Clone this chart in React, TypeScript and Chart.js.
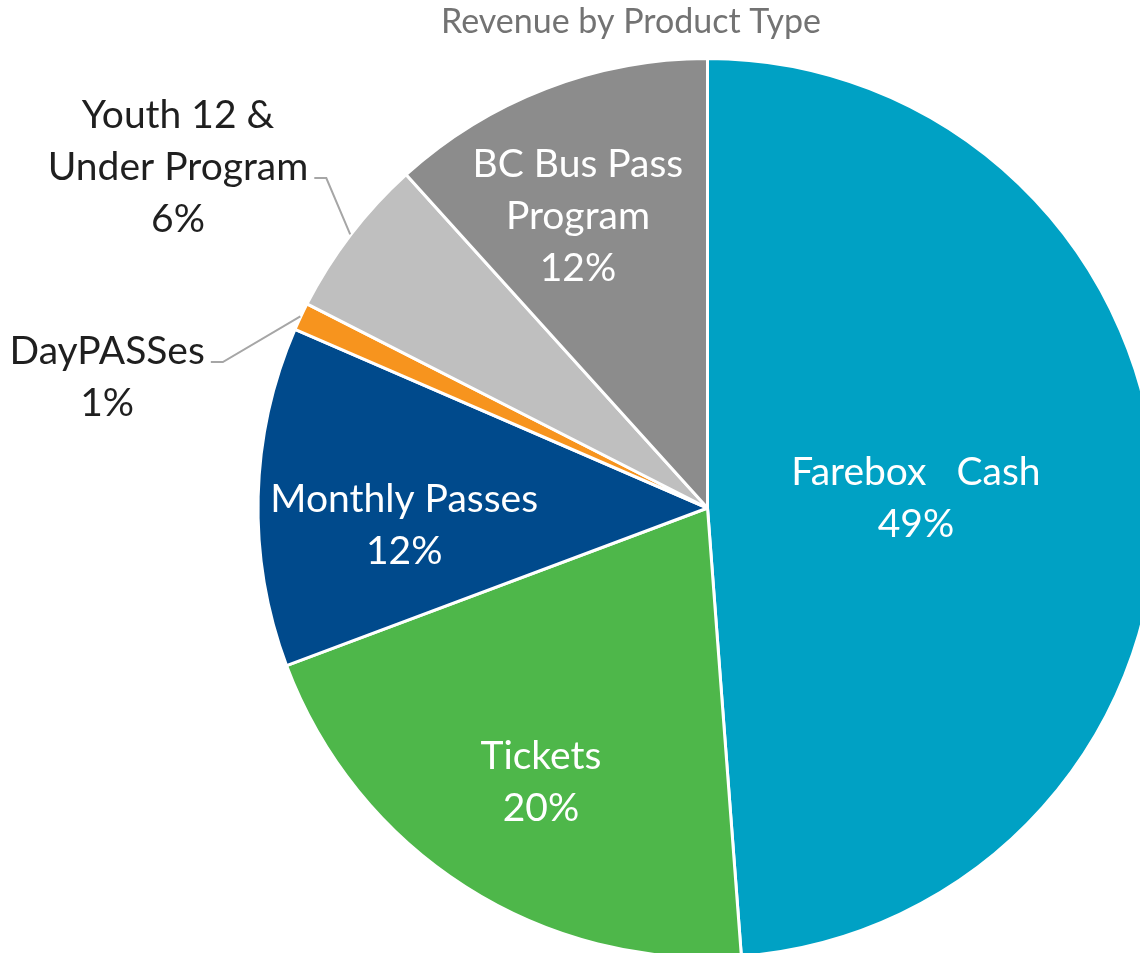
import React, { useEffect, useRef } from "react";
import { Chart, registerables } from "chart.js";
Chart.register(...registerables);

const titleText = "Revenue by Product Type";
const categories = ["Farebox   Cash", "Tickets", "Monthly Passes", "DayPASSes", "Youth 12 & Under Program", "BC Bus Pass Program"];
const labelLines = [["Farebox   Cash"], ["Tickets"], ["Monthly Passes"], ["DayPASSes"], ["Youth 12 &", "Under Program"], ["BC Bus Pass", "Program"]];
const values = [48.8, 20.5, 12.2, 1.0, 5.8, 11.7];
const percentLabels = ["49%", "20%", "12%", "1%", "6%", "12%"];
const colors = ["#00A1C4", "#4EB74A", "#004A8C", "#F7941E", "#BFBFBF", "#8C8C8C"];

// label placement style: angle offset (deg) from slice mid-angle, distance as fraction of radius
const labelStyle = [
  { dAng: -1.0, frac: 0.466, color: "#ffffff", leader: false },
  { dAng: -1.15, frac: 0.713, color: "#ffffff", leader: false },
  { dAng: -4.46, frac: 0.678, color: "#ffffff", leader: false },
  { dAng: -12.8, frac: 1.372, color: "#1f1f1f", leader: true, leaderLine: 0 },
  { dAng: -4.58, frac: 1.407, color: "#1f1f1f", leader: true, leaderLine: 1 },
  { dAng: -2.8, frac: 0.715, color: "#ffffff", leader: false },
];

const FONT_FAMILY = "Lato, 'Open Sans', sans-serif";
const LABEL_SIZE = 39;
const LINE_H = 52;
const TITLE_SIZE = 34;

const labelPlugin = {
  id: "customLabels",
  afterDatasetsDraw(chart: any) {
    const ctx = chart.ctx as CanvasRenderingContext2D;
    const meta = chart.getDatasetMeta(0);
    const cx0 = chart.chartArea ? (chart.chartArea.left + chart.chartArea.right) / 2 : 0;
    ctx.save();
    // title
    ctx.font = `${TITLE_SIZE}px ${FONT_FAMILY}`;
    ctx.fillStyle = "#737373";
    ctx.textAlign = "center";
    ctx.textBaseline = "alphabetic";
    ctx.fillText(titleText, cx0 - 76.5, 33);

    ctx.font = `${LABEL_SIZE}px ${FONT_FAMILY}`;
    meta.data.forEach((arc: any, i: number) => {
      const p = arc.getProps(["x", "y", "startAngle", "endAngle", "outerRadius"], true);
      const r = 448;
      const mid = (p.startAngle + p.endAngle) / 2;
      const st = labelStyle[i];
      const a = mid + (st.dAng * Math.PI) / 180;
      const lx = p.x + Math.cos(a) * r * st.frac;
      const ly = p.y + Math.sin(a) * r * st.frac;
      const lines = [...labelLines[i], percentLabels[i]];
      const n = lines.length;
      const capHalf = LABEL_SIZE * 0.36;
      ctx.fillStyle = st.color;
      ctx.textAlign = "center";
      lines.forEach((t, k) => {
        const cy = ly + (k - (n - 1) / 2) * LINE_H;
        ctx.fillText(t, lx, cy + capHalf);
      });
      if (st.leader) {
        const k = st.leaderLine as number;
        const lineCy = ly + (k - (n - 1) / 2) * LINE_H;
        const w = ctx.measureText(lines[k]).width;
        const endX = lx + w / 2 + 6;
        const yL = lineCy + 12;
        const ex = p.x + Math.cos(mid) * (r + 2);
        const ey = p.y + Math.sin(mid) * (r + 2);
        ctx.strokeStyle = "#A6A6A6";
        ctx.lineWidth = 2;
        ctx.beginPath();
        ctx.moveTo(endX, yL);
        ctx.lineTo(endX + 12, yL);
        ctx.lineTo(ex, ey);
        ctx.stroke();
      }
    });
    ctx.restore();
  },
};

export default function App() {
  const ref = useRef<HTMLCanvasElement | null>(null);
  useEffect(() => {
    document.body.style.margin = "0";
    const canvas = ref.current;
    if (!canvas) return;
    const chart = new Chart(canvas, {
      type: "pie",
      data: {
        labels: categories,
        datasets: [
          {
            data: values,
            backgroundColor: colors,
            borderColor: "#ffffff",
            borderWidth: 3,
          },
        ],
      },
      options: {
        responsive: false,
        animation: false,
        devicePixelRatio: 1,
        radius: 449.5,
        layout: { padding: { left: 259.5, right: 14.5, top: 60, bottom: 14 } },
        plugins: { legend: { display: false }, tooltip: { enabled: false }, title: { display: false } },
      } as any,
      plugins: [labelPlugin],
    });
    return () => chart.destroy();
  }, []);
  return (
    <div style={{ position: "absolute", left: 0, top: 0, width: 1140, height: 953, overflow: "hidden", background: "#fff" }}>
      <canvas ref={ref} width={1170} height={970} style={{ display: "block" }} />
    </div>
  );
}
